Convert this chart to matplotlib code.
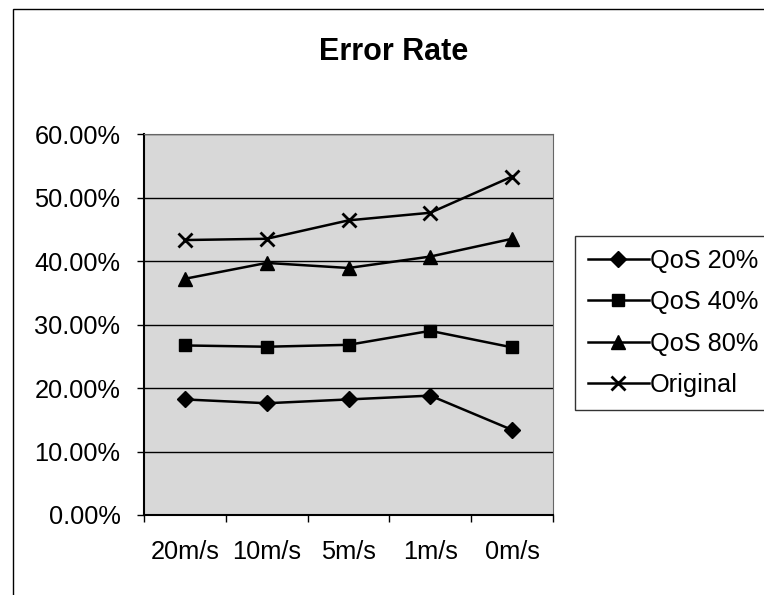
import matplotlib
matplotlib.use("Agg")
import matplotlib.pyplot as plt
from matplotlib.patches import Rectangle

plt.rcParams["font.family"] = ["Liberation Sans", "DejaVu Sans"]

categories = ["20m/s", "10m/s", "5m/s", "1m/s", "0m/s"]
qos_20 = [18.2, 17.6, 18.2, 18.8, 13.4]
qos_40 = [26.7, 26.5, 26.8, 29.0, 26.4]
qos_80 = [37.2, 39.7, 38.9, 40.7, 43.5]
original = [43.3, 43.5, 46.4, 47.6, 53.3]

series = [
    ("QoS 20%", qos_20, "D", 8),
    ("QoS 40%", qos_40, "s", 8),
    ("QoS 80%", qos_80, "^", 10),
    ("Original", original, "x", 10),
]

fig = plt.figure(figsize=(7.64, 5.95), dpi=100)
ax = fig.add_axes([144 / 764, 1 - 515 / 595, (553 - 144) / 764, (515 - 134) / 595])

# chart frame (runs past the picture at right and bottom)
fig.patches.append(Rectangle((13 / 764, -0.05), 1.1, 1 - 9 / 595 + 0.05,
                             transform=fig.transFigure, fill=False,
                             edgecolor="black", linewidth=1.0))

ax.set_facecolor("#d8d8d8")
x = range(len(categories))
for name, vals, mk, ms in series:
    ax.plot(x, vals, color="black", linewidth=1.8, marker=mk, markersize=ms,
            markeredgewidth=2 if mk == "x" else 1, label=name)

ax.set_xlim(-0.5, len(categories) - 0.5)
ax.set_ylim(0, 60)
ax.set_yticks(range(0, 61, 10))
ax.set_yticklabels([f"{v:.2f}%" for v in range(0, 61, 10)], fontsize=18.3)
ax.set_xticks(list(x))
ax.set_xticklabels(categories, fontsize=18.3)
ax.set_xticks([i - 0.5 for i in range(len(categories) + 1)], minor=True)
ax.tick_params(axis="x", which="major", length=0, pad=18)
ax.tick_params(axis="x", which="minor", length=5, width=1, direction="out")
ax.tick_params(axis="y", length=5, width=1, direction="out", pad=12)
ax.grid(axis="y", color="black", linewidth=1.0)
ax.set_axisbelow(True)

for side in ["top", "right"]:
    ax.spines[side].set_color("#666666")
    ax.spines[side].set_linewidth(0.8)
for side in ["left", "bottom"]:
    ax.spines[side].set_linewidth(1.5)

fig.text(394 / 764, 1 - 52 / 595, "Error Rate", fontsize=22, fontweight="bold",
         ha="center", va="center")

leg = ax.legend(loc="center left", bbox_to_anchor=(575 / 764, 1 - 323 / 595),
                bbox_transform=fig.transFigure, fontsize=18.3, frameon=True,
                fancybox=False, edgecolor="black", handlelength=2.4,
                handletextpad=0.05, labelspacing=0.68, borderpad=0.5,
                borderaxespad=0)
leg.get_frame().set_linewidth(1.0)

fig.savefig("out.png", dpi=100)
